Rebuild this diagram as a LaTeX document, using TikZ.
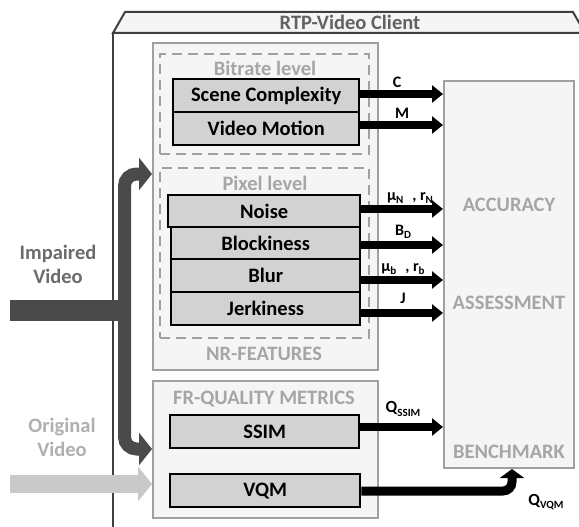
\documentclass[tikz,border=0pt]{standalone}
\usepackage{fontspec}
\setmainfont{Carlito}
\usetikzlibrary{arrows.meta}
\definecolor{framec}{HTML}{3F3F3F}
\definecolor{headtxt}{HTML}{626262}
\definecolor{panelfill}{HTML}{F5F5F5}
\definecolor{panelline}{HTML}{A0A0A0}
\definecolor{greytxt}{HTML}{A6A6A6}
\definecolor{featfill}{HTML}{D2D2D2}
\definecolor{darkarr}{HTML}{4A4A4A}
\definecolor{lightarr}{HTML}{C9C9C9}
\definecolor{imptxt}{HTML}{6B6B6B}
\definecolor{origtxt}{HTML}{B0B0B0}
\newcommand\bigfont{\fontsize{20.5}{24}\selectfont\bfseries}
\newcommand\lblfont{\fontsize{16}{18}\selectfont\bfseries}
\newcommand\qfont{\fontsize{17}{19}\selectfont\bfseries}
\newcommand\subt[1]{\raisebox{-0.45ex}{\fontsize{11}{11}\selectfont\bfseries #1}}
\tikzset{
  panel/.style={draw=panelline, fill=panelfill, line width=2pt, anchor=north west, inner sep=0pt},
  levelbox/.style={draw=panelline, dash pattern=on 10pt off 6pt, line width=2pt, anchor=north west, inner sep=0pt},
  featbox/.style={draw=black, fill=featfill, line width=2.4pt, anchor=north west, inner sep=0pt, font=\bigfont},
  greylabel/.style={text=greytxt, font=\bigfont, inner sep=0pt},
  arrlabel/.style={text=black, font=\lblfont, inner sep=0pt},
  featarrow/.style={draw=black, line width=8pt, -{Triangle[length=11pt,width=17pt]}},
  vqmarrow/.style={draw=black, line width=9pt, rounded corners=9pt, -{Triangle[length=9pt,width=24pt]}},
  imparrow/.style={draw=darkarr, line width=13pt, rounded corners=12pt, -{Triangle[length=13pt,width=32pt]}},
  origarrow/.style={draw=lightarr, line width=18pt, -{Triangle[length=14pt,width=34pt]}},
}
\begin{document}
\begin{tikzpicture}[x=1pt,y=-1pt]
\useasboundingbox (0,0) rectangle (579,527);
\fill[white] (0,0) rectangle (579,527);
% client frame
\begin{scope}
\clip (0,0) rectangle (579,527);
\draw[framec, line width=2pt, fill=panelfill] (113,33) -- (125,12) -- (573,12) -- (585,33) -- cycle;
\draw[framec, line width=2pt] (113,32) -- (113,540);
\end{scope}
\node[text=headtxt, font=\bigfont, inner sep=0pt] (client) at (350,22) {RTP-Video Client};

% panels
\node[panel, minimum width=225pt, minimum height=327pt] (nr) at (152,42) {};
\node[panel, minimum width=225pt, minimum height=137pt] (fr) at (152,380) {};
\node[panel, minimum width=130pt, minimum height=387pt] (acc) at (443,80) {};
\node[levelbox, minimum width=209pt, minimum height=100pt] (bitrate) at (159,53) {};
\node[levelbox, minimum width=209pt, minimum height=170pt] (pixel) at (159,167) {};

\node[greylabel] (tbit) at (265,68) {Bitrate level};
\node[greylabel] (tpix) at (265,183) {Pixel level};
\node[greylabel] (tnr) at (264,354) {NR-FEATURES};
\node[greylabel] (tfr) at (264,399) {FR-QUALITY METRICS};
\node[greylabel] (tacc) at (509,205) {ACCURACY};
\node[greylabel] (tass) at (509,303) {ASSESSMENT};
\node[greylabel] (tben) at (509,452) {BENCHMARK};

% feature boxes
\node[featbox, minimum width=186pt, minimum height=33pt] (scene) at (172,78) {Scene Complexity};
\node[featbox, minimum width=186pt, minimum height=33pt] (motion) at (172,111) {Video Motion};
\node[featbox, minimum width=192pt, minimum height=32pt] (noise) at (167,194) {Noise};
\node[featbox, minimum width=189pt, minimum height=32pt] (block) at (170,226) {Blockiness};
\node[featbox, minimum width=189pt, minimum height=33pt] (blur) at (170,258) {Blur};
\node[featbox, minimum width=189pt, minimum height=33pt] (jerk) at (170,291) {Jerkiness};
\node[featbox, minimum width=189pt, minimum height=33pt] (ssim) at (169,414) {SSIM};
\node[featbox, minimum width=190pt, minimum height=33pt] (vqm) at (169,473) {VQM};

% feature arrows
\draw[featarrow] (scene.east |- 0,94) -- (acc.west |- 0,94);
\draw[featarrow] (motion.east |- 0,125) -- (acc.west |- 0,125);
\draw[featarrow] (noise.east |- 0,209) -- (acc.west |- 0,209);
\draw[featarrow] (block.east |- 0,245) -- (acc.west |- 0,245);
\draw[featarrow] (blur.east |- 0,280) -- (acc.west |- 0,280);
\draw[featarrow] (jerk.east |- 0,313) -- (acc.west |- 0,313);
\draw[featarrow] (ssim.east |- 0,427) -- (acc.west |- 0,427);
\draw[vqmarrow] (vqm.east |- 0,491) -- (512,491) -- (acc.south -| 512,0);

% arrow labels
\node[arrlabel] (lc) at (397,82) {C};
\node[arrlabel] (lm) at (402,113) {M};
\node[arrlabel] (ln) at (410,198) {μ\subt{N}\,\, , r\subt{N}};
\node[arrlabel] (lb) at (403,232) {B\subt{D}};
\node[arrlabel] (lbl) at (403,269) {μ\subt{b}\,\, , r\subt{b}};
\node[arrlabel] (lj) at (403,298) {J};
\node[arrlabel, font=\qfont] (lq1) at (403,409) {Q\subt{SSIM}};
\node[arrlabel, font=\qfont] (lq2) at (546,502) {Q\subt{VQM}};

% input labels
\node[text=imptxt, font=\bigfont, inner sep=0pt, align=center] (imp) at (58,264) {Impaired\\Video};
\node[text=origtxt, font=\bigfont, inner sep=0pt, align=center] (orig) at (62,437) {Original\\Video};

% impaired video arrows
\fill[darkarr] (10,300) rectangle (124,321);
\coordinate (junc) at (124.5,312);
\draw[imparrow] (junc) -- (124.5,174) -- (nr.west |- 0,174);
\draw[imparrow] (junc) -- (124.5,449) -- (fr.west |- 0,449);
% original video arrow
\coordinate (origstart) at (10,484);
\draw[origarrow] (origstart) -- (fr.west |- 0,484);
\end{tikzpicture}
\end{document}
